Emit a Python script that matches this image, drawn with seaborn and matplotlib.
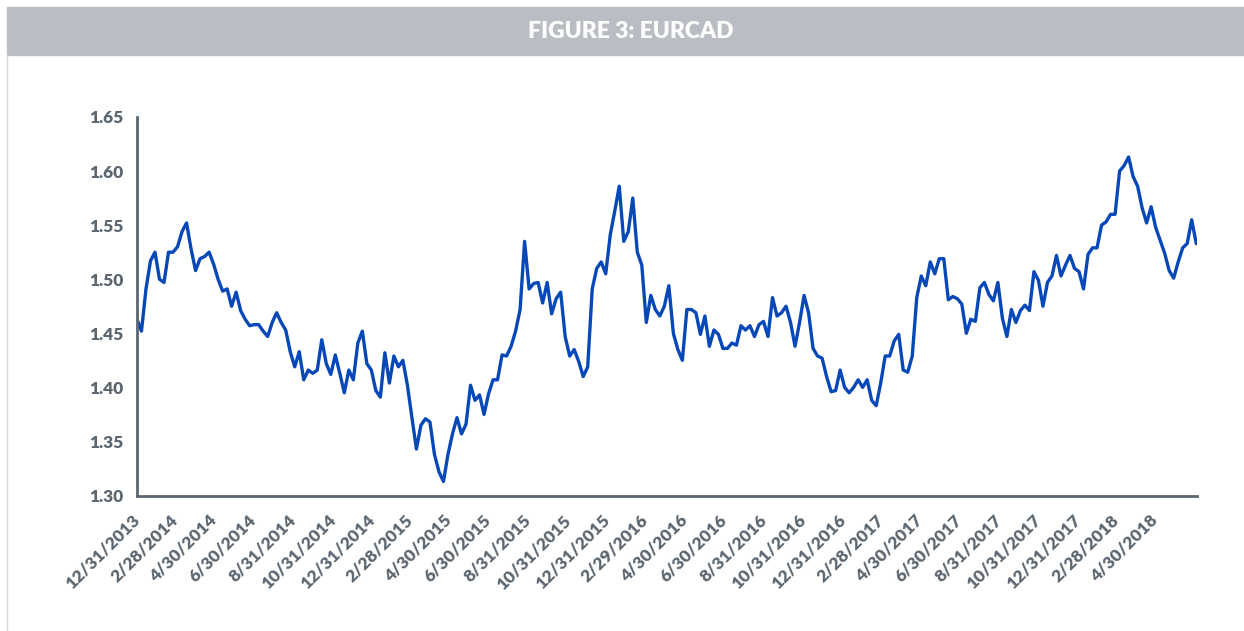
import pandas as pd
import seaborn as sns
import matplotlib.pyplot as plt
from matplotlib.patches import Rectangle
from matplotlib.lines import Line2D

# weekly EURCAD closes (every 7 days from 12/31/2013)
eurcad_2014 = [1.463, 1.452, 1.491, 1.517, 1.525, 1.500, 1.497, 1.525, 1.525, 1.530,
               1.544, 1.552, 1.528, 1.508, 1.519, 1.521, 1.525, 1.514, 1.500, 1.489,
               1.491, 1.475, 1.488, 1.471, 1.463, 1.457, 1.458, 1.458, 1.452, 1.447,
               1.460, 1.469, 1.460, 1.453, 1.433, 1.419, 1.433, 1.407, 1.416, 1.413,
               1.416, 1.444, 1.422, 1.412, 1.430, 1.413, 1.395, 1.416, 1.407, 1.441,
               1.452, 1.422, 1.416]
eurcad_2015 = [1.397, 1.391, 1.432, 1.404, 1.429, 1.419, 1.425, 1.402, 1.372, 1.343,
               1.365, 1.371, 1.368, 1.338, 1.322, 1.313, 1.338, 1.357, 1.372, 1.357,
               1.366, 1.402, 1.388, 1.393, 1.375, 1.394, 1.407, 1.407, 1.430, 1.429,
               1.438, 1.452, 1.472, 1.535, 1.491, 1.496, 1.497, 1.478, 1.497, 1.468,
               1.482, 1.488, 1.447, 1.429, 1.435, 1.424, 1.410, 1.419, 1.491, 1.510,
               1.516, 1.505]
eurcad_2016 = [1.541, 1.563, 1.586, 1.535, 1.544, 1.575, 1.525, 1.513, 1.460, 1.485,
               1.472, 1.466, 1.475, 1.494, 1.450, 1.435, 1.425, 1.472, 1.472, 1.469,
               1.449, 1.466, 1.438, 1.453, 1.449, 1.436, 1.436, 1.441, 1.439, 1.457,
               1.453, 1.457, 1.447, 1.458, 1.461, 1.447, 1.483, 1.466, 1.469, 1.475,
               1.460, 1.438, 1.460, 1.485, 1.469, 1.436, 1.429, 1.427, 1.410, 1.396,
               1.397, 1.416]
eurcad_2017 = [1.400, 1.395, 1.400, 1.407, 1.400, 1.407, 1.388, 1.383, 1.404, 1.429,
               1.429, 1.443, 1.449, 1.416, 1.414, 1.429, 1.483, 1.503, 1.494, 1.516,
               1.505, 1.519, 1.519, 1.481, 1.484, 1.482, 1.477, 1.450, 1.463, 1.461,
               1.492, 1.497, 1.486, 1.480, 1.497, 1.464, 1.447, 1.472, 1.460, 1.471,
               1.476, 1.471, 1.507, 1.499, 1.475, 1.497, 1.503, 1.522, 1.503, 1.513,
               1.522, 1.510]
eurcad_2018 = [1.507, 1.491, 1.523, 1.529, 1.529, 1.550, 1.553, 1.560, 1.560, 1.600,
               1.605, 1.613, 1.595, 1.586, 1.566, 1.552, 1.567, 1.548, 1.536, 1.524,
               1.508, 1.501, 1.516, 1.529, 1.533, 1.555, 1.533]

y_ticks = [1.30, 1.35, 1.40, 1.45, 1.50, 1.55, 1.60, 1.65]
x_tick_labels = ['12/31/2013', '2/28/2014', '4/30/2014', '6/30/2014', '8/31/2014',
                 '10/31/2014', '12/31/2014', '2/28/2015', '4/30/2015', '6/30/2015',
                 '8/31/2015', '10/31/2015', '12/31/2015', '2/29/2016', '4/30/2016',
                 '6/30/2016', '8/31/2016', '10/31/2016', '12/31/2016', '2/28/2017',
                 '4/30/2017', '6/30/2017', '8/31/2017', '10/31/2017', '12/31/2017',
                 '2/28/2018', '4/30/2018']

values = eurcad_2014 + eurcad_2015 + eurcad_2016 + eurcad_2017 + eurcad_2018
dates = pd.date_range('2013-12-31', periods=len(values), freq='7D')
df = pd.DataFrame({'Date': dates, 'EURCAD': values})

sns.set_theme(style='white')
plt.rcParams['font.family'] = ['Lato', 'DejaVu Sans']

text_color = '#5b6670'

fig = plt.figure(figsize=(12.44, 6.31), dpi=100)

# grey header band and thin frame line on the left
fig.patches.append(Rectangle((7 / 1244, 1 - 55 / 631), 1 - 7 / 1244, 48 / 631,
                             transform=fig.transFigure, color='#babdc4', zorder=0))
fig.lines.append(Line2D([7.5 / 1244, 7.5 / 1244], [0, 1 - 55 / 631],
                        transform=fig.transFigure, color='#d9dadd', linewidth=1))
fig.text(0.507, 1 - 31 / 631, 'FIGURE 3: EURCAD', ha='center', va='center',
         color='white', fontsize=16.5, fontweight='heavy')

ax = fig.add_axes([0.1101, 0.2147, 0.852, 0.5999])
sns.lineplot(data=df, x='Date', y='EURCAD', ax=ax, color='#0748b9', linewidth=2.4)

ax.set_ylim(1.30, 1.65)
ax.set_yticks(y_ticks)
ax.set_yticklabels([f'{t:.2f}' for t in y_ticks])
ax.set_xlim(pd.Timestamp('2013-12-31'), pd.Timestamp('2018-07-04'))
ax.set_xticks(pd.to_datetime(x_tick_labels, format='%m/%d/%Y'))
ax.set_xticklabels(x_tick_labels, rotation=45, ha='right', va='center',
                   rotation_mode='anchor')
ax.set_xlabel('')
ax.set_ylabel('')

ax.tick_params(axis='both', length=0, labelcolor=text_color, labelsize=12.5)
ax.tick_params(axis='y', pad=10)
ax.tick_params(axis='x', pad=16)
for lbl in ax.get_xticklabels() + ax.get_yticklabels():
    lbl.set_fontweight('heavy')

sns.despine(ax=ax)
for side in ['left', 'bottom']:
    ax.spines[side].set_color(text_color)
    ax.spines[side].set_linewidth(2)

plt.savefig('out.png', dpi=100)
plt.close()
